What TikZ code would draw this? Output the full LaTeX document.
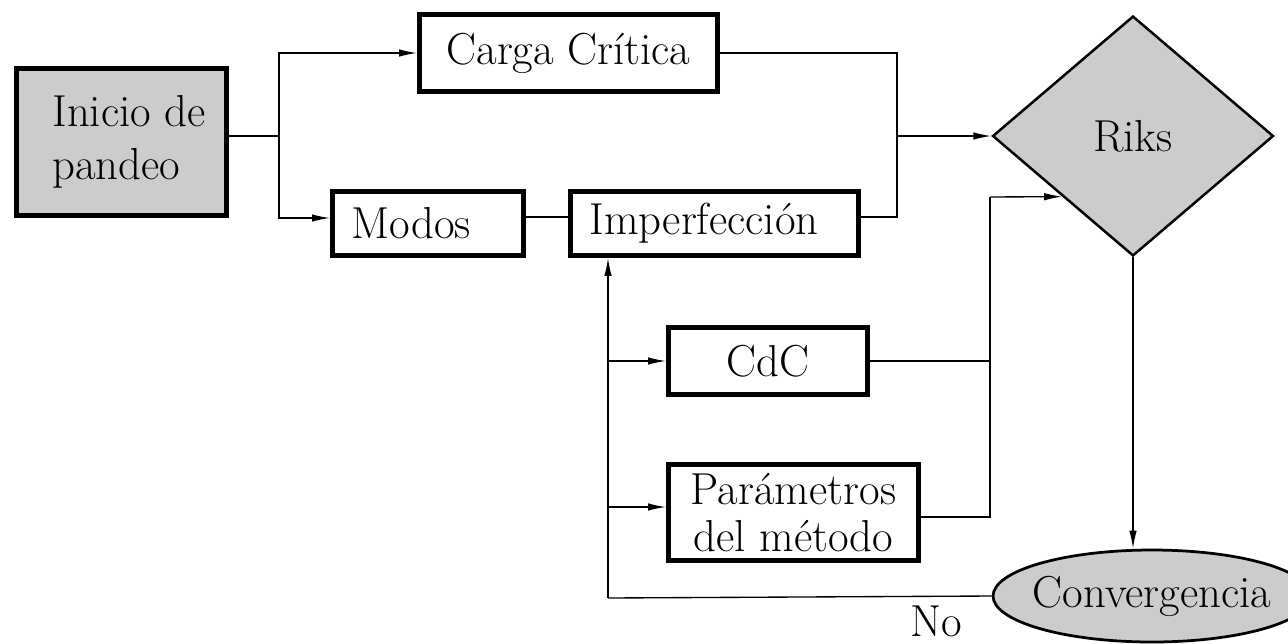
\documentclass[tikz,border=0pt]{standalone}
\usetikzlibrary{shapes.geometric,arrows.meta}
\definecolor{boxgray}{HTML}{CCCCCC}
\begin{document}
\begin{tikzpicture}[x=0.02cm,y=-0.02cm,
  font=\fontsize{25.5}{30}\selectfont,
  box/.style={draw,line width=0.1cm,rectangle,inner sep=0pt},
  conn/.style={line width=0.027cm},
  arr/.style={conn,-{Latex[length=0.36cm,width=0.15cm]}},
]
\useasboundingbox (0,0) rectangle (1288,643);
% nodes
\node[box,fill=boxgray,minimum width=4.2cm,minimum height=2.94cm,align=left,font=\fontsize{25.5}{30}\selectfont]
  (inicio) at (121.5,142) {\hspace*{0.3cm}Inicio de\\\hspace*{0.3cm}pandeo};
\node[box,minimum width=5.96cm,minimum height=1.54cm] (carga) at (568.5,53) {Carga Crítica};
\node[box,minimum width=3.82cm,minimum height=1.28cm] (modos) at (428,223.5) {Modos\hspace*{0.68cm}};
\node[box,minimum width=5.76cm,minimum height=1.28cm] (imperf) at (714.5,223.5) {Imperfección\hspace*{0.42cm}};
\node[draw,diamond,fill=boxgray,line width=0.05cm,minimum width=5.62cm,minimum height=4.8cm,inner sep=0pt]
  (riks) at (1133,136) {Riks};
\node[box,minimum width=3.98cm,minimum height=1.34cm] (cdc) at (768,361) {CdC};
\node[box,minimum width=5.0cm,minimum height=1.92cm,align=center,font=\fontsize{25.5}{26.5}\selectfont]
  (param) at (793.5,512.5) {Parámetros\\del método};
\node[draw,ellipse,fill=boxgray,line width=0.055cm,minimum width=6.36cm,minimum height=1.84cm,inner xsep=-0.3cm,inner ysep=0pt]
  (conv) at (1152,596) {Convergencia};
\node (no) at (936,621) {No};
% junction points
\coordinate (f) at (279,136);
\coordinate (j) at (897,136);
\coordinate (k) at (990,197);
\coordinate (b) at (608,598);
% connectors
\draw[conn] (inicio.east |- f) -- (f);
\draw[arr] (f) |- (carga.west);
\draw[arr] (f) |- (modos.west |- 0,218);
\draw[conn] (modos.east |- 0,217) -- (imperf.west |- 0,217);
\draw[conn] (carga.east) -| (j);
\draw[conn] (imperf.east |- 0,217) -| (j);
\draw[arr] (j) -- (riks.west);
\draw[conn] (cdc.east) -| (k);
\draw[conn] (param.east |- 0,517) -| (k);
\draw[arr] (k) -- (riks.south west);
\draw[arr] (riks.south) -- (riks.south |- conv.north);
\draw[conn] (conv.west) -- (b);
\draw[arr] (b) -- (b |- imperf.south);
\draw[arr] (b |- cdc.west) -- (cdc.west);
\draw[arr] (b |- 0,507) -- (param.west |- 0,507);
\end{tikzpicture}
\end{document}
